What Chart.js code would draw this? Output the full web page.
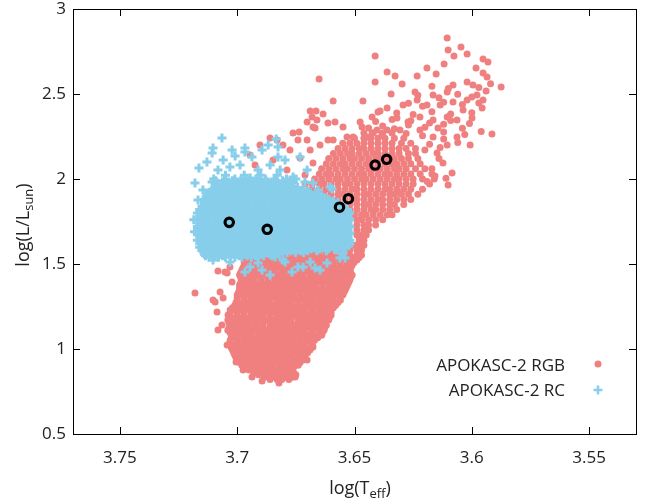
<!DOCTYPE html>
<html>
<head>
<meta charset="utf-8">
<script src="https://cdn.jsdelivr.net/npm/chart.js"></script>
<style>
  body { margin: 0; background: #fff; }
  canvas { display: block; }
</style>
</head>
<body>
<canvas id="myChart" width="646" height="501"></canvas>
<script>
const xTicks = [3.55, 3.6, 3.65, 3.7, 3.75]
const xTickLabels = ['3.55', '3.6', '3.65', '3.7', '3.75']
const yTicks = [0.5, 1, 1.5, 2, 2.5, 3]
const yTickLabels = ['0.5', '1', '1.5', '2', '2.5', '3']
const seriesNames = ['APOKASC-2 RGB', 'APOKASC-2 RC']
const rgbColor = '#f08080'
const rcColor = '#87ceeb'

// black rings: log(Teff), log(L)
const markT = [3.7034, 3.6872, 3.6564, 3.6526, 3.6412, 3.6363]
const markL = [1.745, 1.704, 1.834, 1.884, 2.082, 2.116]

// RGB, dense part, one row per log(L): [logL, logT, logT, ...]
const rgbRows = [
  [0.820, 3.686, 3.683, 3.681, 3.678],
  [0.834, 3.6885, 3.6855, 3.6825, 3.6795, 3.6768],
  [0.848, 3.691, 3.688, 3.686, 3.683, 3.680, 3.677, 3.675],
  [0.862, 3.6930, 3.6900, 3.6872, 3.6842, 3.6812, 3.6785, 3.6760],
  [0.877, 3.695, 3.693, 3.690, 3.687, 3.685, 3.682, 3.679, 3.677],
  [0.891, 3.6965, 3.6935, 3.6905, 3.6877, 3.6847, 3.6817, 3.6790, 3.6760],
  [0.905, 3.698, 3.696, 3.693, 3.690, 3.688, 3.685, 3.682, 3.679, 3.677, 3.674],
  [0.920, 3.6990, 3.6960, 3.6932, 3.6902, 3.6872, 3.6845, 3.6815, 3.6785, 3.6758, 3.6732],
  [0.935, 3.700, 3.697, 3.694, 3.692, 3.689, 3.686, 3.684, 3.681, 3.678, 3.675, 3.672],
  [0.949, 3.7005, 3.6975, 3.6947, 3.6917, 3.6887, 3.6860, 3.6830, 3.6800, 3.6772, 3.6742, 3.6715],
  [0.963, 3.701, 3.699, 3.696, 3.693, 3.691, 3.688, 3.685, 3.682, 3.680, 3.677, 3.674, 3.671],
  [0.978, 3.7015, 3.6985, 3.6957, 3.6927, 3.6897, 3.6870, 3.6840, 3.6810, 3.6782, 3.6752, 3.6722, 3.6700],
  [0.994, 3.702, 3.700, 3.697, 3.694, 3.692, 3.689, 3.686, 3.683, 3.681, 3.678, 3.675, 3.672, 3.669],
  [1.008, 3.7025, 3.6995, 3.6967, 3.6937, 3.6907, 3.6880, 3.6850, 3.6820, 3.6792, 3.6762, 3.6732, 3.6705, 3.6685],
  [1.022, 3.703, 3.701, 3.698, 3.695, 3.692, 3.690, 3.687, 3.684, 3.682, 3.679, 3.676, 3.673, 3.671, 3.668],
  [1.037, 3.7030, 3.7000, 3.6972, 3.6942, 3.6912, 3.6885, 3.6855, 3.6825, 3.6797, 3.6767, 3.6737, 3.6710, 3.6680],
  [1.052, 3.703, 3.700, 3.697, 3.695, 3.692, 3.689, 3.686, 3.684, 3.681, 3.678, 3.676, 3.673, 3.670, 3.667],
  [1.066, 3.7025, 3.6995, 3.6967, 3.6937, 3.6907, 3.6880, 3.6850, 3.6820, 3.6792, 3.6762, 3.6732, 3.6705, 3.6675, 3.6657],
  [1.081, 3.702, 3.699, 3.696, 3.694, 3.691, 3.688, 3.685, 3.683, 3.680, 3.677, 3.674, 3.672, 3.669, 3.666, 3.664],
  [1.096, 3.7030, 3.7000, 3.6972, 3.6942, 3.6912, 3.6885, 3.6855, 3.6825, 3.6797, 3.6767, 3.6737, 3.6710, 3.6680, 3.6650, 3.6637],
  [1.111, 3.704, 3.701, 3.698, 3.696, 3.693, 3.690, 3.687, 3.685, 3.682, 3.679, 3.676, 3.674, 3.671, 3.668, 3.665, 3.663],
  [1.125, 3.7035, 3.7005, 3.6977, 3.6947, 3.6917, 3.6890, 3.6860, 3.6830, 3.6802, 3.6772, 3.6742, 3.6715, 3.6685, 3.6655, 3.6627],
  [1.140, 3.703, 3.700, 3.697, 3.695, 3.692, 3.689, 3.686, 3.684, 3.681, 3.678, 3.675, 3.673, 3.670, 3.667, 3.664, 3.662],
  [1.155, 3.7035, 3.7005, 3.6977, 3.6947, 3.6917, 3.6890, 3.6860, 3.6830, 3.6802, 3.6772, 3.6742, 3.6715, 3.6685, 3.6655, 3.6625],
  [1.170, 3.704, 3.701, 3.699, 3.696, 3.693, 3.690, 3.688, 3.685, 3.682, 3.679, 3.677, 3.674, 3.671, 3.668, 3.666, 3.663, 3.661],
  [1.184, 3.7035, 3.7005, 3.6977, 3.6947, 3.6917, 3.6890, 3.6860, 3.6830, 3.6802, 3.6772, 3.6742, 3.6715, 3.6685, 3.6655, 3.6628, 3.6607],
  [1.199, 3.703, 3.700, 3.697, 3.694, 3.692, 3.689, 3.686, 3.683, 3.681, 3.678, 3.675, 3.672, 3.670, 3.667, 3.664, 3.662, 3.660],
  [1.214, 3.7030, 3.7000, 3.6972, 3.6942, 3.6912, 3.6885, 3.6855, 3.6825, 3.6797, 3.6767, 3.6737, 3.6710, 3.6680, 3.6650, 3.6622, 3.6600],
  [1.229, 3.703, 3.701, 3.698, 3.695, 3.693, 3.690, 3.687, 3.684, 3.682, 3.679, 3.676, 3.673, 3.671, 3.668, 3.665, 3.662, 3.660],
  [1.243, 3.7020, 3.6990, 3.6962, 3.6932, 3.6902, 3.6875, 3.6845, 3.6815, 3.6787, 3.6757, 3.6727, 3.6700, 3.6670, 3.6640, 3.6612, 3.6590],
  [1.258, 3.701, 3.699, 3.696, 3.693, 3.691, 3.688, 3.685, 3.682, 3.680, 3.677, 3.674, 3.671, 3.669, 3.666, 3.663, 3.661, 3.658],
  [1.273, 3.7005, 3.6975, 3.6947, 3.6917, 3.6887, 3.6860, 3.6830, 3.6800, 3.6772, 3.6742, 3.6712, 3.6685, 3.6655, 3.6625, 3.6597, 3.6570],
  [1.288, 3.700, 3.697, 3.694, 3.692, 3.689, 3.686, 3.683, 3.681, 3.678, 3.675, 3.672, 3.670, 3.667, 3.664, 3.661, 3.659, 3.656],
  [1.302, 3.7000, 3.6970, 3.6942, 3.6912, 3.6882, 3.6855, 3.6825, 3.6795, 3.6767, 3.6737, 3.6707, 3.6680, 3.6650, 3.6620, 3.6592, 3.6562],
  [1.317, 3.700, 3.698, 3.695, 3.692, 3.690, 3.687, 3.684, 3.681, 3.679, 3.676, 3.673, 3.670, 3.668, 3.665, 3.662, 3.660, 3.657, 3.655],
  [1.332, 3.6995, 3.6965, 3.6937, 3.6907, 3.6877, 3.6850, 3.6820, 3.6790, 3.6762, 3.6732, 3.6702, 3.6675, 3.6645, 3.6615, 3.6587, 3.6557, 3.6545],
  [1.347, 3.699, 3.696, 3.693, 3.691, 3.688, 3.685, 3.682, 3.680, 3.677, 3.674, 3.671, 3.669, 3.666, 3.663, 3.661, 3.658, 3.656, 3.654],
  [1.361, 3.6990, 3.6960, 3.6932, 3.6902, 3.6872, 3.6845, 3.6815, 3.6785, 3.6757, 3.6727, 3.6697, 3.6670, 3.6640, 3.6610, 3.6582, 3.6552, 3.6535],
  [1.376, 3.699, 3.697, 3.694, 3.691, 3.689, 3.686, 3.683, 3.680, 3.678, 3.675, 3.672, 3.669, 3.667, 3.664, 3.661, 3.659, 3.656, 3.653],
  [1.391, 3.6985, 3.6955, 3.6927, 3.6897, 3.6867, 3.6840, 3.6810, 3.6780, 3.6752, 3.6722, 3.6692, 3.6665, 3.6635, 3.6605, 3.6577, 3.6547, 3.6525],
  [1.406, 3.698, 3.695, 3.693, 3.690, 3.687, 3.684, 3.682, 3.679, 3.676, 3.673, 3.671, 3.668, 3.665, 3.663, 3.660, 3.657, 3.655, 3.652],
  [1.420, 3.6985, 3.6955, 3.6927, 3.6897, 3.6867, 3.6840, 3.6810, 3.6780, 3.6752, 3.6722, 3.6692, 3.6665, 3.6635, 3.6605, 3.6577, 3.6547, 3.6517],
  [1.435, 3.699, 3.696, 3.694, 3.691, 3.688, 3.685, 3.683, 3.680, 3.677, 3.674, 3.672, 3.669, 3.666, 3.664, 3.661, 3.658, 3.656, 3.653, 3.651],
  [1.450, 3.6985, 3.6955, 3.6927, 3.6897, 3.6867, 3.6840, 3.6810, 3.6780, 3.6752, 3.6722, 3.6692, 3.6665, 3.6635, 3.6605, 3.6577, 3.6547, 3.6517],
  [1.465, 3.698, 3.695, 3.692, 3.690, 3.687, 3.684, 3.681, 3.679, 3.676, 3.673, 3.670, 3.668, 3.665, 3.662, 3.660, 3.657, 3.654, 3.652],
  [1.479, 3.6975, 3.6945, 3.6917, 3.6887, 3.6857, 3.6830, 3.6800, 3.6770, 3.6742, 3.6712, 3.6682, 3.6655, 3.6625, 3.6595, 3.6567, 3.6537, 3.6515],
  [1.494, 3.697, 3.694, 3.692, 3.689, 3.686, 3.683, 3.681, 3.678, 3.675, 3.672, 3.670, 3.667, 3.664, 3.661, 3.659, 3.656, 3.653, 3.651],
  [1.509, 3.6970, 3.6940, 3.6912, 3.6882, 3.6852, 3.6825, 3.6795, 3.6765, 3.6737, 3.6707, 3.6677, 3.6650, 3.6620, 3.6590, 3.6562, 3.6532, 3.6502],
  [1.524, 3.697, 3.695, 3.692, 3.689, 3.687, 3.684, 3.681, 3.678, 3.676, 3.673, 3.670, 3.667, 3.665, 3.662, 3.659, 3.656, 3.654, 3.651, 3.649],
  [1.538, 3.6935, 3.6905, 3.6877, 3.6847, 3.6817, 3.6790, 3.6760, 3.6730, 3.6702, 3.6672, 3.6642, 3.6615, 3.6585, 3.6557, 3.6527, 3.6497, 3.6480],
  [1.553, 3.690, 3.687, 3.684, 3.682, 3.679, 3.676, 3.673, 3.671, 3.668, 3.665, 3.662, 3.660, 3.657, 3.654, 3.652, 3.649, 3.647],
  [1.582, 3.672, 3.669, 3.666, 3.663, 3.660, 3.657, 3.655, 3.652, 3.649, 3.647],
  [1.611, 3.656, 3.653, 3.650, 3.648, 3.646],
  [1.640, 3.648, 3.646],
  [1.670, 3.649, 3.647, 3.645],
  [1.700, 3.649, 3.646, 3.644],
  [1.730, 3.649, 3.646, 3.644, 3.641],
  [1.760, 3.649, 3.647, 3.644, 3.641, 3.638],
  [1.790, 3.650, 3.647, 3.645, 3.642, 3.639, 3.636, 3.634],
  [1.820, 3.652, 3.649, 3.646, 3.643, 3.641, 3.638, 3.635, 3.632],
  [1.850, 3.655, 3.652, 3.649, 3.646, 3.644, 3.641, 3.638, 3.635, 3.633, 3.629],
  [1.880, 3.660, 3.657, 3.654, 3.651, 3.649, 3.646, 3.643, 3.640, 3.638, 3.635, 3.632, 3.629, 3.626],
  [1.910, 3.666, 3.663, 3.660, 3.657, 3.655, 3.652, 3.649, 3.646, 3.644, 3.641, 3.638, 3.635, 3.633, 3.630, 3.627, 3.623],
  [1.940, 3.668, 3.665, 3.662, 3.660, 3.657, 3.654, 3.651, 3.649, 3.646, 3.643, 3.640, 3.637, 3.635, 3.632, 3.629, 3.626, 3.621],
  [1.970, 3.671, 3.668, 3.665, 3.663, 3.660, 3.657, 3.654, 3.652, 3.649, 3.646, 3.643, 3.640, 3.637, 3.634, 3.631, 3.628, 3.625, 3.618],
  [2.000, 3.667, 3.664, 3.661, 3.658, 3.656, 3.653, 3.650, 3.647, 3.645, 3.642, 3.639, 3.636, 3.633, 3.631, 3.628, 3.625, 3.621, 3.616],
  [2.030, 3.665, 3.662, 3.660, 3.657, 3.654, 3.651, 3.648, 3.646, 3.643, 3.640, 3.637, 3.635, 3.632, 3.629, 3.626, 3.622, 3.617],
  [2.060, 3.664, 3.661, 3.658, 3.655, 3.653, 3.650, 3.647, 3.644, 3.642, 3.639, 3.636, 3.633, 3.631, 3.628, 3.624, 3.620],
  [2.090, 3.662, 3.659, 3.656, 3.654, 3.651, 3.648, 3.645, 3.643, 3.640, 3.637, 3.634, 3.632, 3.629, 3.626, 3.622],
  [2.120, 3.661, 3.658, 3.655, 3.652, 3.650, 3.647, 3.644, 3.641, 3.639, 3.636, 3.633, 3.630, 3.627, 3.623],
  [2.150, 3.659, 3.656, 3.653, 3.651, 3.648, 3.645, 3.642, 3.640, 3.637, 3.634, 3.631, 3.627, 3.624],
  [2.180, 3.657, 3.654, 3.651, 3.648, 3.646, 3.643, 3.640, 3.637, 3.634, 3.631, 3.628, 3.624],
  [2.210, 3.655, 3.652, 3.649, 3.646, 3.643, 3.640, 3.637, 3.634, 3.630, 3.626],
  [2.240, 3.650, 3.646, 3.643, 3.640, 3.637, 3.633, 3.629],
  [2.270, 3.646, 3.642, 3.638, 3.634]
]

// RGB, single stars outside the dense part: [logT, logL]
const rgbLoose = [
  [3.6105, 2.829], [3.6101, 2.759], [3.6046, 2.776], [3.6076, 2.724], [3.6020, 2.735], [3.6412, 2.724],
  [3.5952, 2.706], [3.5931, 2.688], [3.6118, 2.676], [3.6191, 2.653], [3.5982, 2.653], [3.5952, 2.624],
  [3.5935, 2.600], [3.6651, 2.588], [3.6361, 2.629], [3.6327, 2.606], [3.6233, 2.606], [3.6152, 2.618],
  [3.6412, 2.571], [3.6297, 2.559], [3.5875, 2.541], [3.6080, 2.553], [3.6020, 2.571], [3.5995, 2.553],
  [3.6591, 2.459], [3.6464, 2.459], [3.6344, 2.500], [3.6242, 2.512], [3.5939, 2.518], [3.5978, 2.494],
  [3.6105, 2.512], [3.6165, 2.494], [3.6689, 2.400], [3.6634, 2.382], [3.6391, 2.400], [3.6361, 2.418],
  [3.6293, 2.435], [3.6233, 2.465], [3.6191, 2.435], [3.6135, 2.435], [3.6080, 2.453], [3.6020, 2.465],
  [3.5952, 2.465], [3.5956, 2.418], [3.6037, 2.406], [3.6702, 2.335], [3.6668, 2.300], [3.6613, 2.329],
  [3.6549, 2.306], [3.6476, 2.335], [3.6425, 2.365], [3.6319, 2.359], [3.6272, 2.335], [3.6221, 2.365],
  [3.6165, 2.347], [3.6105, 2.365], [3.6063, 2.347], [3.5999, 2.359], [3.6144, 2.300], [3.6063, 2.247],
  [3.6007, 2.200], [3.5914, 2.265], [3.6105, 2.200], [3.6165, 2.247], [3.6221, 2.288], [3.6306, 2.288],
  [3.6361, 2.288], [3.6383, 2.259], [3.6447, 2.247], [3.6506, 2.247], [3.6591, 2.229], [3.6647, 2.200],
  [3.6702, 2.229], [3.6101, 1.965], [3.6157, 2.018], [3.6084, 2.035], [3.6123, 2.094], [3.6148, 2.153],
  [3.6306, 1.918], [3.6400, 2.394], [3.6664, 2.400], [3.6681, 2.365], [3.6660, 2.347], [3.6583, 2.335],
  [3.6677, 2.306], [3.6468, 2.306], [3.6762, 2.270], [3.6736, 2.276], [3.6903, 2.200], [3.6613, 2.229],
  [3.6532, 2.247], [3.6455, 2.241], [3.6425, 2.270], [3.6404, 2.288], [3.6860, 2.241], [3.6830, 2.229],
  [3.6741, 2.229], [3.6945, 2.141], [3.6924, 2.082], [3.6847, 2.112], [3.6805, 2.200], [3.6788, 2.053],
  [3.6689, 2.170], [3.6677, 2.094], [3.6711, 2.024], [3.6732, 2.124], [3.6775, 2.170],
  [3.644, 2.300], [3.638, 2.312], [3.633, 2.296], [3.627, 2.318], [3.620, 2.305], [3.612, 2.322], [3.604, 2.298],
  [3.641, 2.338], [3.634, 2.350], [3.626, 2.342], [3.618, 2.330], [3.609, 2.344], [3.601, 2.326],
  [3.632, 2.388], [3.625, 2.379], [3.617, 2.395], [3.609, 2.383], [3.600, 2.390],
  [3.627, 2.445], [3.621, 2.428], [3.612, 2.452], [3.604, 2.438], [3.597, 2.447],
  [3.623, 2.492], [3.614, 2.478], [3.606, 2.498], [3.600, 2.483],
  [3.617, 2.545], [3.610, 2.532], [3.597, 2.538], [3.592, 2.561],
  [3.628, 2.268], [3.621, 2.255], [3.612, 2.276], [3.603, 2.262], [3.596, 2.280],
  [3.618, 2.205], [3.606, 2.215], [3.612, 2.235], [3.620, 2.170], [3.614, 2.120], [3.617, 2.060],
  [3.611, 2.005], [3.619, 1.985], [3.6135, 2.185],
  [3.7180, 1.330], [3.7082, 1.459], [3.7043, 1.447], [3.7022, 1.394], [3.7073, 1.335], [3.7094, 1.277],
  [3.7060, 1.300], [3.7086, 1.218], [3.7103, 1.288], [3.7082, 1.112], [3.7065, 1.141], [3.7043, 1.024],
  [3.7005, 0.924], [3.7039, 1.200], [3.6975, 0.876], [3.6937, 0.835], [3.6894, 0.812], [3.6822, 0.800],
  [3.6753, 0.835], [3.6702, 0.935], [3.6677, 1.012], [3.6647, 1.082], [3.7031, 1.482], [3.7052, 1.453]
]

// RC, dense part: [logL, logT, logT, ...]
const rcRows = [
  [1.540, 3.712, 3.708, 3.705, 3.701, 3.698, 3.694, 3.691],
  [1.549, 3.7135, 3.7100, 3.7063, 3.7028, 3.6992, 3.6957, 3.6922, 3.6887, 3.6852],
  [1.558, 3.714, 3.710, 3.707, 3.703, 3.700, 3.696, 3.693, 3.689, 3.686, 3.682],
  [1.568, 3.7142, 3.7105, 3.7070, 3.7035, 3.6998, 3.6963, 3.6928, 3.6893, 3.6857, 3.6822, 3.6787, 3.6752, 3.6717],
  [1.578, 3.715, 3.712, 3.708, 3.705, 3.701, 3.698, 3.694, 3.691, 3.687, 3.684, 3.680, 3.677, 3.673, 3.670, 3.666, 3.662],
  [1.588, 3.7147, 3.7110, 3.7075, 3.7040, 3.7003, 3.6968, 3.6933, 3.6898, 3.6862, 3.6827, 3.6792, 3.6757, 3.6720, 3.6685, 3.6650, 3.6615, 3.6585],
  [1.598, 3.716, 3.713, 3.710, 3.706, 3.703, 3.699, 3.696, 3.692, 3.689, 3.685, 3.682, 3.678, 3.675, 3.671, 3.668, 3.664, 3.661, 3.657, 3.654],
  [1.608, 3.7150, 3.7113, 3.7078, 3.7043, 3.7006, 3.6971, 3.6936, 3.6901, 3.6865, 3.6830, 3.6795, 3.6760, 3.6723, 3.6688, 3.6653, 3.6618, 3.6583, 3.6550, 3.6525],
  [1.619, 3.716, 3.712, 3.708, 3.705, 3.701, 3.698, 3.694, 3.691, 3.687, 3.684, 3.680, 3.677, 3.673, 3.670, 3.666, 3.663, 3.659, 3.656, 3.652],
  [1.629, 3.7155, 3.7120, 3.7085, 3.7048, 3.7013, 3.6978, 3.6942, 3.6907, 3.6872, 3.6837, 3.6800, 3.6765, 3.6730, 3.6695, 3.6658, 3.6623, 3.6588, 3.6553, 3.6527],
  [1.640, 3.717, 3.714, 3.710, 3.707, 3.703, 3.700, 3.696, 3.693, 3.689, 3.686, 3.682, 3.679, 3.675, 3.672, 3.668, 3.665, 3.661, 3.658, 3.654, 3.652],
  [1.650, 3.7157, 3.7122, 3.7087, 3.7050, 3.7015, 3.6980, 3.6945, 3.6908, 3.6873, 3.6838, 3.6803, 3.6767, 3.6732, 3.6697, 3.6660, 3.6625, 3.6590, 3.6555, 3.6527],
  [1.660, 3.716, 3.712, 3.709, 3.705, 3.702, 3.698, 3.695, 3.691, 3.688, 3.684, 3.681, 3.677, 3.674, 3.670, 3.667, 3.663, 3.660, 3.656, 3.653],
  [1.670, 3.7153, 3.7118, 3.7083, 3.7047, 3.7012, 3.6977, 3.6940, 3.6905, 3.6870, 3.6835, 3.6798, 3.6763, 3.6728, 3.6693, 3.6657, 3.6622, 3.6587, 3.6552, 3.6527],
  [1.681, 3.717, 3.714, 3.710, 3.707, 3.703, 3.699, 3.696, 3.692, 3.689, 3.686, 3.682, 3.679, 3.675, 3.672, 3.668, 3.665, 3.661, 3.658, 3.655, 3.652],
  [1.690, 3.7157, 3.7120, 3.7085, 3.7050, 3.7015, 3.6978, 3.6943, 3.6908, 3.6873, 3.6837, 3.6802, 3.6767, 3.6730, 3.6695, 3.6660, 3.6625, 3.6590, 3.6555, 3.6527],
  [1.700, 3.716, 3.713, 3.709, 3.706, 3.702, 3.698, 3.695, 3.691, 3.688, 3.685, 3.681, 3.677, 3.674, 3.670, 3.667, 3.664, 3.660, 3.656, 3.653],
  [1.710, 3.7155, 3.7120, 3.7083, 3.7048, 3.7013, 3.6978, 3.6942, 3.6907, 3.6872, 3.6835, 3.6800, 3.6765, 3.6730, 3.6693, 3.6658, 3.6623, 3.6588, 3.6553, 3.6527],
  [1.721, 3.717, 3.714, 3.711, 3.707, 3.704, 3.700, 3.697, 3.693, 3.690, 3.686, 3.683, 3.679, 3.676, 3.672, 3.669, 3.665, 3.662, 3.658, 3.655, 3.652],
  [1.730, 3.7158, 3.7122, 3.7087, 3.7052, 3.7015, 3.6980, 3.6945, 3.6910, 3.6873, 3.6838, 3.6803, 3.6768, 3.6732, 3.6697, 3.6662, 3.6625, 3.6590, 3.6555, 3.6527],
  [1.740, 3.716, 3.712, 3.709, 3.705, 3.702, 3.698, 3.695, 3.691, 3.688, 3.684, 3.681, 3.677, 3.674, 3.670, 3.667, 3.663, 3.660, 3.656, 3.653],
  [1.750, 3.7153, 3.7118, 3.7082, 3.7047, 3.7012, 3.6975, 3.6940, 3.6905, 3.6870, 3.6833, 3.6798, 3.6763, 3.6728, 3.6692, 3.6657, 3.6622, 3.6585, 3.6550, 3.6527],
  [1.760, 3.717, 3.714, 3.710, 3.707, 3.703, 3.700, 3.696, 3.693, 3.689, 3.686, 3.682, 3.679, 3.675, 3.672, 3.668, 3.665, 3.661, 3.658, 3.654, 3.652],
  [1.770, 3.7157, 3.7122, 3.7085, 3.7050, 3.7015, 3.6980, 3.6943, 3.6908, 3.6873, 3.6837, 3.6802, 3.6767, 3.6730, 3.6695, 3.6660, 3.6625, 3.6588, 3.6553, 3.6527],
  [1.781, 3.716, 3.713, 3.709, 3.706, 3.702, 3.699, 3.695, 3.692, 3.688, 3.685, 3.681, 3.678, 3.674, 3.671, 3.667, 3.664, 3.660, 3.657, 3.653],
  [1.790, 3.7155, 3.7118, 3.7083, 3.7048, 3.7012, 3.6977, 3.6942, 3.6905, 3.6870, 3.6835, 3.6800, 3.6763, 3.6728, 3.6693, 3.6657, 3.6622, 3.6587, 3.6552, 3.6527],
  [1.800, 3.717, 3.714, 3.710, 3.707, 3.703, 3.699, 3.696, 3.692, 3.689, 3.685, 3.682, 3.678, 3.675, 3.671, 3.668, 3.665, 3.661, 3.658, 3.655, 3.652],
  [1.810, 3.7153, 3.7118, 3.7082, 3.7047, 3.7010, 3.6975, 3.6940, 3.6905, 3.6868, 3.6833, 3.6798, 3.6762, 3.6727, 3.6692, 3.6655, 3.6620, 3.6585, 3.6550, 3.6530],
  [1.820, 3.716, 3.712, 3.709, 3.705, 3.702, 3.698, 3.695, 3.691, 3.688, 3.684, 3.681, 3.677, 3.674, 3.670, 3.667, 3.663, 3.660, 3.656, 3.653],
  [1.830, 3.7147, 3.7112, 3.7075, 3.7040, 3.7005, 3.6970, 3.6933, 3.6898, 3.6863, 3.6827, 3.6792, 3.6757, 3.6720, 3.6685, 3.6650, 3.6615, 3.6580, 3.6545],
  [1.840, 3.715, 3.711, 3.707, 3.704, 3.700, 3.697, 3.693, 3.690, 3.686, 3.683, 3.679, 3.676, 3.672, 3.669, 3.665, 3.662, 3.658, 3.655],
  [1.850, 3.7140, 3.7105, 3.7068, 3.7033, 3.6998, 3.6962, 3.6927, 3.6892, 3.6855, 3.6820, 3.6785, 3.6750, 3.6713, 3.6678, 3.6643, 3.6607, 3.6572],
  [1.860, 3.714, 3.710, 3.706, 3.703, 3.699, 3.696, 3.692, 3.689, 3.685, 3.682, 3.678, 3.675, 3.671, 3.668, 3.664, 3.661, 3.657],
  [1.870, 3.7138, 3.7102, 3.7067, 3.7032, 3.6995, 3.6960, 3.6925, 3.6890, 3.6853, 3.6818, 3.6783, 3.6747, 3.6712, 3.6677, 3.6640, 3.6605, 3.6590],
  [1.880, 3.714, 3.711, 3.707, 3.704, 3.700, 3.697, 3.693, 3.690, 3.686, 3.683, 3.679, 3.676, 3.672, 3.669, 3.665, 3.661],
  [1.890, 3.7133, 3.7098, 3.7062, 3.7027, 3.6992, 3.6955, 3.6920, 3.6885, 3.6850, 3.6813, 3.6778, 3.6743, 3.6707, 3.6672, 3.6637, 3.6625],
  [1.900, 3.713, 3.709, 3.706, 3.702, 3.699, 3.695, 3.692, 3.688, 3.685, 3.681, 3.678, 3.674, 3.671, 3.667, 3.664],
  [1.910, 3.7125, 3.7088, 3.7053, 3.7018, 3.6982, 3.6947, 3.6912, 3.6875, 3.6840, 3.6805, 3.6770, 3.6733, 3.6698, 3.6663],
  [1.920, 3.712, 3.708, 3.705, 3.701, 3.698, 3.694, 3.691, 3.687, 3.684, 3.680, 3.677, 3.673, 3.669],
  [1.930, 3.7110, 3.7075, 3.7040, 3.7003, 3.6968, 3.6933, 3.6898, 3.6862, 3.6827, 3.6792, 3.6755, 3.6720, 3.6700],
  [1.940, 3.710, 3.707, 3.703, 3.700, 3.696, 3.693, 3.689, 3.686, 3.682, 3.679, 3.675, 3.672],
  [1.950, 3.7093, 3.7058, 3.7022, 3.6987, 3.6952, 3.6915, 3.6880, 3.6845, 3.6810, 3.6773, 3.6742],
  [1.960, 3.708, 3.705, 3.701, 3.698, 3.694, 3.691, 3.687, 3.684, 3.680, 3.677],
  [1.970, 3.7085, 3.7050, 3.7013, 3.6978, 3.6943, 3.6907, 3.6872, 3.6837, 3.6800, 3.6778],
  [1.980, 3.709, 3.705, 3.701, 3.697, 3.694, 3.690, 3.687, 3.683, 3.680, 3.676],
  [1.990, 3.7092, 3.7055, 3.7020, 3.6985, 3.6948, 3.6913, 3.6878, 3.6842, 3.6807, 3.6772],
  [2.000, 3.710, 3.705, 3.701, 3.697, 3.692, 3.688, 3.684, 3.679, 3.675],
  [2.022, 3.705, 3.697, 3.690, 3.683]
]

// RC, single stars: [logT, logL]
const rcLoose = [
  [3.7065, 2.241], [3.6834, 2.235], [3.6868, 2.200], [3.6826, 2.188], [3.7103, 2.182], [3.6967, 2.182],
  [3.7163, 2.065], [3.7180, 1.977], [3.7107, 2.153], [3.7129, 2.100], [3.7060, 2.112], [3.7009, 2.135],
  [3.6967, 2.159], [3.6937, 2.129], [3.7082, 2.053], [3.7031, 2.071], [3.6860, 2.082], [3.6817, 2.053],
  [3.6762, 2.012], [3.6732, 2.129], [3.6702, 2.053], [3.6826, 2.129], [3.7103, 1.524], [3.6945, 1.482],
  [3.6911, 1.506], [3.6805, 1.524], [3.6741, 1.482], [3.6617, 1.506], [3.6574, 1.582], [3.6596, 1.941],
  [3.6677, 1.976], [3.6604, 1.953], [3.6894, 1.465], [3.6689, 1.512], [3.6647, 1.465], [3.6839, 1.541],
  [3.6562, 1.535], [3.6719, 1.482], [3.6549, 1.565], [3.6796, 1.512],
  [3.7146, 1.935], [3.6988, 2.082], [3.6911, 2.053], [3.6796, 2.112], [3.6894, 2.170], [3.7022, 2.170],
  [3.6775, 1.965], [3.6711, 1.982], [3.6655, 1.935], [3.6945, 2.006], [3.7107, 1.982], [3.7167, 1.876],
  [3.7031, 1.512], [3.6967, 1.453], [3.6860, 1.435], [3.6766, 1.453], [3.6668, 1.476], [3.6540, 1.535],
  [3.7150, 1.582], [3.7185, 1.760], [3.7182, 1.690]
]

let rowsToPoints = (rows) => rows.flatMap(r => r.slice(1).map(t => ({x: t, y: r[0]})))
let pairsToPoints = (pairs) => pairs.map(p => ({x: p[0], y: p[1]}))

const FONT = '"Open Sans", "Noto Sans", sans-serif'
const textColor = '#222'

// text with a subscript part, centred on cx
function richText(ctx, parts, cx, y) {
  let w = 0
  parts.forEach(p => {
    ctx.font = (p[1] ? 13 : 18) + 'px ' + FONT
    w += ctx.measureText(p[0]).width
  })
  let x = cx - w / 2
  ctx.textAlign = 'left'
  ctx.textBaseline = 'alphabetic'
  parts.forEach(p => {
    ctx.font = (p[1] ? 13 : 18) + 'px ' + FONT
    ctx.fillText(p[0], x, p[1] ? y + 4 : y)
    x += ctx.measureText(p[0]).width
  })
}

const extras = {
  id: 'extras',
  afterDraw(chart) {
    const ctx = chart.ctx
    const a = chart.chartArea
    const xs = chart.scales.x
    const ys = chart.scales.y
    ctx.save()
    // frame and inward ticks on all sides
    ctx.strokeStyle = '#000'
    ctx.lineWidth = 1
    ctx.beginPath()
    xTicks.forEach(v => {
      let px = Math.round(xs.getPixelForValue(v)) + 0.5
      ctx.moveTo(px, a.bottom); ctx.lineTo(px, a.bottom - 7)
      ctx.moveTo(px, a.top); ctx.lineTo(px, a.top + 7)
    })
    yTicks.forEach(v => {
      let py = Math.round(ys.getPixelForValue(v)) + 0.5
      ctx.moveTo(a.left, py); ctx.lineTo(a.left + 7, py)
      ctx.moveTo(a.right, py); ctx.lineTo(a.right - 7, py)
    })
    ctx.stroke()
    ctx.strokeRect(Math.round(a.left) + 0.5, Math.round(a.top) + 0.5, Math.round(a.right - a.left), Math.round(a.bottom - a.top))

    // axis titles
    ctx.fillStyle = textColor
    richText(ctx, [['log(T', 0], ['eff', 1], [')', 0]], 360, 494)
    ctx.save()
    ctx.translate(29, 225)
    ctx.rotate(-Math.PI / 2)
    richText(ctx, [['log(L/L', 0], ['sun', 1], [')', 0]], 0, 0)
    ctx.restore()

    // key, bottom right inside the plot
    ctx.font = '17px ' + FONT
    ctx.textAlign = 'right'
    ctx.textBaseline = 'middle'
    ctx.fillText(seriesNames[0], a.right - 71, 366)
    ctx.fillText(seriesNames[1], a.right - 71, 391)
    let sx = a.right - 38
    ctx.fillStyle = rgbColor
    ctx.beginPath(); ctx.arc(sx, 364, 3.5, 0, Math.PI * 2); ctx.fill()
    ctx.strokeStyle = rcColor
    ctx.lineWidth = 2.5
    ctx.beginPath()
    ctx.moveTo(sx - 4.5, 390); ctx.lineTo(sx + 4.5, 390)
    ctx.moveTo(sx, 385.5); ctx.lineTo(sx, 394.5)
    ctx.stroke()
    ctx.restore()
  }
}

const data = {
  datasets: [
    {
      label: 'marks',
      data: markT.map((t, i) => ({x: t, y: markL[i]})),
      pointStyle: 'circle',
      pointRadius: 4.2,
      pointBorderWidth: 3.2,
      pointBorderColor: '#000',
      pointBackgroundColor: 'rgba(0,0,0,0)',
      order: 0
    },
    {
      label: seriesNames[1],
      data: rowsToPoints(rcRows).concat(pairsToPoints(rcLoose)),
      pointStyle: 'cross',
      pointRadius: 4.5,
      pointBorderWidth: 3,
      pointBorderColor: rcColor,
      pointBackgroundColor: rcColor,
      order: 1
    },
    {
      label: seriesNames[0],
      data: rowsToPoints(rgbRows).concat(pairsToPoints(rgbLoose)),
      pointStyle: 'circle',
      pointRadius: 3.5,
      pointBorderWidth: 0,
      pointBorderColor: rgbColor,
      pointBackgroundColor: rgbColor,
      order: 2
    }
  ]
}

const tickFont = { family: FONT, size: 17, lineHeight: 1 }

const config = {
  type: 'scatter',
  data: data,
  plugins: [extras],
  options: {
    responsive: false,
    animation: false,
    devicePixelRatio: 1,
    events: [],
    layout: { padding: { left: 0, right: 10, top: 9, bottom: 0 } },
    plugins: { legend: { display: false }, tooltip: { enabled: false } },
    scales: {
      x: {
        type: 'linear',
        reverse: true,
        min: 3.53,
        max: 3.77,
        afterBuildTicks: s => { s.ticks = xTicks.map(v => ({value: v})) },
        afterFit: s => { s.height = 67; s.paddingLeft = 0; s.paddingRight = 0 },
        grid: { display: false, drawTicks: false },
        border: { display: false },
        ticks: {
          padding: 16, color: textColor, font: tickFont, maxRotation: 0, autoSkip: false,
          callback: v => xTickLabels[xTicks.indexOf(v)]
        }
      },
      y: {
        type: 'linear',
        min: 0.5,
        max: 3,
        afterBuildTicks: s => { s.ticks = yTicks.map(v => ({value: v})) },
        afterFit: s => { s.width = 73; s.paddingTop = 0; s.paddingBottom = 0 },
        grid: { display: false, drawTicks: false },
        border: { display: false },
        ticks: {
          padding: 7, color: textColor, font: tickFont, autoSkip: false,
          callback: v => yTickLabels[yTicks.indexOf(v)]
        }
      }
    }
  }
}

var myChart = new Chart(document.getElementById('myChart'), config)
</script>
</body>
</html>
